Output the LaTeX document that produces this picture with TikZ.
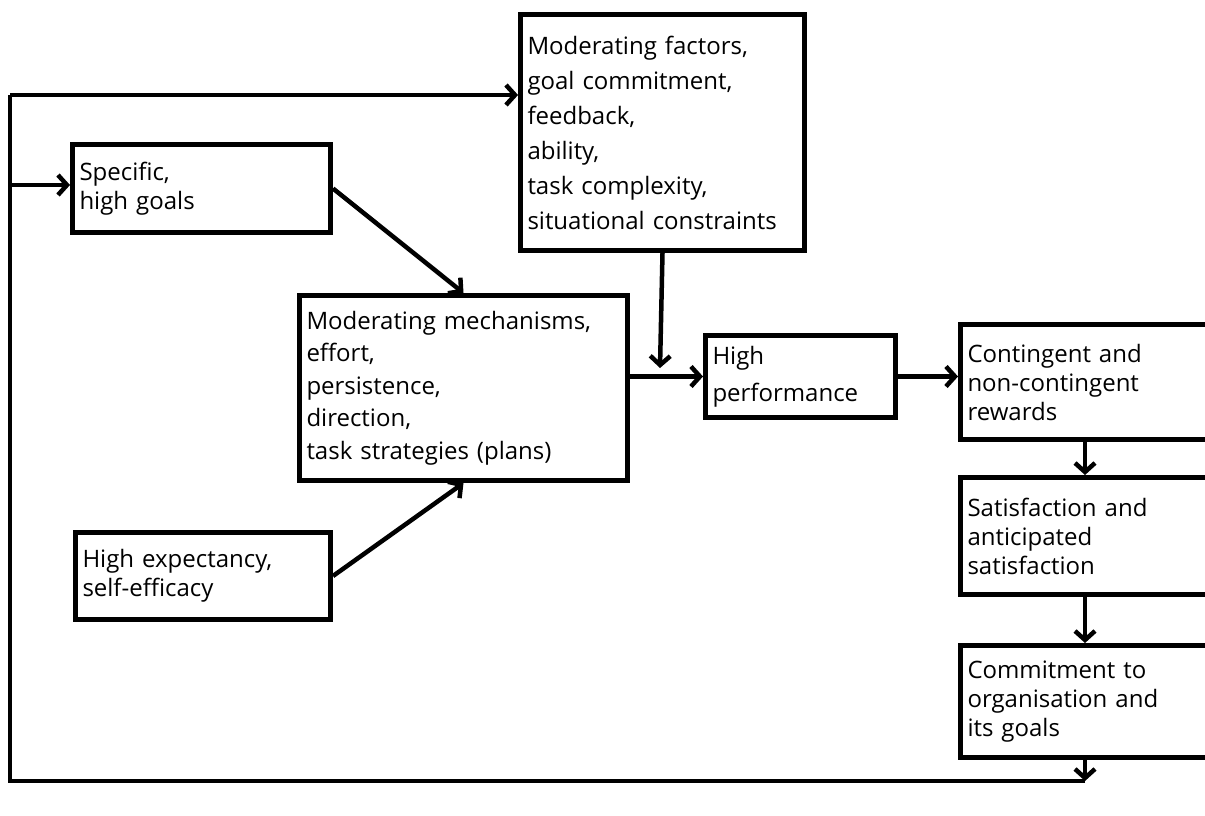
\documentclass[tikz,border=0pt]{standalone}
\usepackage{fontspec}
\setmainfont{Open Sans}
\usetikzlibrary{arrows.meta}
\begin{document}
\begin{tikzpicture}[x=1pt,y=-1pt,
  box/.style={draw,line width=5pt,anchor=north west,inner xsep=7pt,inner ysep=0pt,align=left,font=\fontsize{24}{29}\selectfont},
  conn/.style={line width=4.5pt,-{Straight Barb[length=9pt,width=20pt,line width=4.5pt]}},
  plain/.style={line width=4.5pt}
]
\useasboundingbox (0,0) rectangle (1205,816);
\clip (0,0) rectangle (1205,816);
\node[box,minimum height=236pt,text width=270pt,font=\fontsize{24}{35}\selectfont] (mf) at (518,12)
  {Moderating factors,\\goal commitment,\\feedback,\\ability,\\task complexity,\\situational constraints};
\node[box,minimum height=88pt,text width=244pt] (sg) at (70,142) {Specific,\\high goals};
\node[box,minimum height=185pt,text width=314pt,font=\fontsize{24}{32.5}\selectfont] (mm) at (297,293)
  {Moderating mechanisms,\\effort,\\persistence,\\direction,\\task strategies (plans)};
\node[box,minimum height=87pt,text width=241pt] (he) at (73,530) {High expectancy,\\self-efficacy};
\node[box,minimum height=82pt,text width=176pt,font=\fontsize{24}{37}\selectfont] (hp) at (703,333) {High\\performance};
\node[box,minimum height=115pt,text width=300pt] (cr) at (958,322) {Contingent and\\non-contingent\\rewards};
\node[box,minimum height=117pt,text width=300pt] (sa) at (958,475) {Satisfaction and\\anticipated\\satisfaction};
\node[box,minimum height=112pt,text width=300pt] (cm) at (958,643) {Commitment to\\organisation and\\its goals};
\coordinate (col) at (1085,0);
\coordinate (br) at (1085,781);
\coordinate (bl) at (10,781);
\coordinate (tl) at (10,95);
\coordinate (ml) at (10,185);
\coordinate (jn) at (660,368);
\draw[conn] (sg.east) -- (mm.north);
\draw[conn] (he.east) -- (mm.south);
\draw[conn] (mm.east |- hp.west) -- (hp.west);
\draw[conn] (mf.south) -- (jn);
\draw[conn] (hp.east) -- (hp.east -| cr.west);
\draw[conn] (cr.south -| col) -- (sa.north -| col);
\draw[conn] (sa.south -| col) -- (cm.north -| col);
\draw[conn] (cm.south -| col) -- (br);
\draw[plain,line join=miter] (br) -- (bl) -- (tl);
\draw[conn] (tl) -- (mf.west |- tl);
\draw[conn] (ml) -- (sg.west |- ml);
\end{tikzpicture}
\end{document}
